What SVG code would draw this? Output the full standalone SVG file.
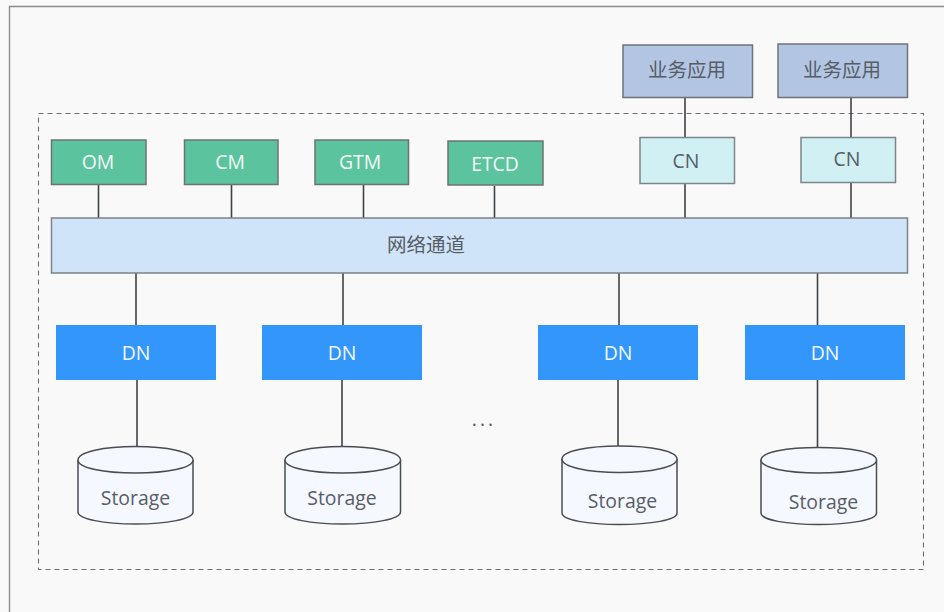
<svg xmlns="http://www.w3.org/2000/svg" width="944" height="612" viewBox="0 0 944 612">
<defs><style>
text{font-family:"Open Sans","Noto Sans","Noto Sans CJK SC",sans-serif;font-size:19.400px;text-anchor:middle;fill:#575d66}
.cjk{font-size:19.500px}
.w{fill:#f4f8f6}
.g rect{fill:#5bc49f;stroke:#6e7371;stroke-width:1.500}
.b rect{fill:#b2c6e3;stroke:#6f7378;stroke-width:1.500}
.c rect{fill:#d0f0f4;stroke:#7e8487;stroke-width:1.500}
.d rect{fill:#3296fa}
.d text{fill:#f2f8ff}
.s path{fill:#f5f8ff;stroke:#4a4d50;stroke-width:1.500}
#conn path{stroke:#404346;stroke-width:1.600;fill:none}
</style></defs>
<rect width="944" height="612" fill="#f9f9f9"/>
<path d="M944 6.500H9.500V612" fill="none" stroke="#8c8c8c" stroke-width="1.400"/>
<rect x="38.500" y="113.500" width="885" height="456" fill="none" stroke="#6a6c6f" stroke-width="1.100" stroke-dasharray="5 4"/>
<g id="conn"><path d="M98.500 185V218M231.500 185V218M363.500 185V218M494.500 186V218M685 98V137M685 184V218M851 98V137M851 183V218M136 273V325M343 273V325M619 273V325M817.500 273V325M137 380V447M342 380V447M618 380V447M817.500 380V447"/></g>
<g id="om" class="g"><rect x="51.500" y="140" width="94.500" height="44.500"/><text class="w" x="98" y="168.500">OM</text></g>
<g id="cm" class="g"><rect x="184.500" y="140" width="93.500" height="44.500"/><text class="w" x="230" y="168.500">CM</text></g>
<g id="gtm" class="g"><rect x="315" y="140" width="93.500" height="44.500"/><text class="w" x="360" y="168.500">GTM</text></g>
<g id="etcd" class="g"><rect x="448" y="141" width="95" height="44"/><text class="w" x="495" y="170.500">ETCD</text></g>
<g id="app1" class="b"><rect x="623" y="45" width="129.500" height="52.500"/><text class="cjk" x="687" y="76.500">业务应用</text></g>
<g id="app2" class="b"><rect x="778" y="44" width="129.500" height="53.500"/><text class="cjk" x="842" y="76.500">业务应用</text></g>
<g id="cn1" class="c"><rect x="640" y="137.500" width="94.500" height="46"/><text x="686" y="167.500">CN</text></g>
<g id="cn2" class="c"><rect x="801" y="137.500" width="94.500" height="45"/><text x="847" y="166">CN</text></g>
<g id="net"><rect x="51.500" y="218" width="856" height="55" fill="#d0e4f9" stroke="#7e8388" stroke-width="1.500"/><text class="cjk" x="426" y="251.500">网络通道</text></g>
<g id="dn1" class="d"><rect x="56" y="325" width="160" height="55"/><text x="136" y="359.500">DN</text></g>
<g id="dn2" class="d"><rect x="262" y="325" width="160" height="55"/><text x="342" y="359.500">DN</text></g>
<g id="dn3" class="d"><rect x="538" y="325" width="160" height="55"/><text x="618" y="359.500">DN</text></g>
<g id="dn4" class="d"><rect x="745" y="325" width="160" height="55"/><text x="825" y="359.500">DN</text></g>
<g id="st1" class="s"><path d="M78 460V512C78 519 104 524 135.500 524S193 519 193 512V460"/><path d="M78 460C78 452 104 446.500 135.500 446.500S193 452 193 460 167 473 135.500 473 78 468 78 460Z"/><text x="135.500" y="505">Storage</text></g>
<g id="st2" class="s"><path d="M285 460V512C285 519 311 524 342.500 524S400.500 519 400.500 512V460"/><path d="M285 460C285 452 311 446.500 342.500 446.500S400.500 452 400.500 460 374 473 342.500 473 285 468 285 460Z"/><text x="342" y="505">Storage</text></g>
<g id="st3" class="s"><path d="M562 459V513C562 520 588 524.500 619.500 524.500S677 520 677 513V459"/><path d="M562 459C562 451 588 446 619.500 446S677 451 677 459 651 472.500 619.500 472.500 562 467 562 459Z"/><text x="622.500" y="507.500">Storage</text></g>
<g id="st4" class="s"><path d="M761 460V513C761 520 787 524.500 818.500 524.500S876.500 520 876.500 513V460"/><path d="M761 460C761 452 787 447.500 818.500 447.500S876.500 452 876.500 460 850 473 818.500 473 761 468 761 460Z"/><text x="823.500" y="508.500">Storage</text></g>
<text id="more" x="484" y="426" style="letter-spacing:3px">...</text>
</svg>
